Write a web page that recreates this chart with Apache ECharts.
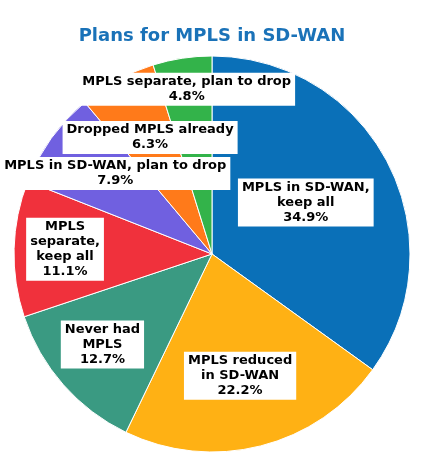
<!DOCTYPE html>
<html>
<head>
<meta charset="utf-8">
<script src="https://cdn.jsdelivr.net/npm/echarts@6/dist/echarts.min.js"></script>
<style>
html,body{margin:0;padding:0;background:#fff;}
#chart{width:424px;height:458px;}
</style>
</head>
<body>
<div id="chart"></div>
<script>
// ---- data ----
var categories = [
  "MPLS in SD-WAN, keep all",
  "MPLS reduced in SD-WAN",
  "Never had MPLS",
  "MPLS separate, keep all",
  "MPLS in SD-WAN, plan to drop",
  "Dropped MPLS already",
  "MPLS separate, plan to drop"
];
var values = [34.9, 22.2, 12.7, 11.1, 7.9, 6.3, 4.8];
var labelText = [
  "MPLS in SD-WAN,\nkeep all",
  "MPLS reduced\nin SD-WAN",
  "Never had\nMPLS",
  "MPLS\nseparate,\nkeep all",
  "MPLS in SD-WAN, plan to drop",
  "Dropped MPLS already",
  "MPLS separate, plan to drop"
];
var titleText = "Plans for MPLS in SD-WAN";

// ---- styles ----
var colors = ["#0a70b8", "#ffb114", "#3a9a82", "#f0313c", "#7060e0", "#ff7a1a", "#33b34a"];
var labelOffsets = [[3, -5], [3, 23], [-33, 23], [-45, -2], [-14, -21], [-13, -27], [-10, -64]];

var chart = echarts.init(document.getElementById('chart'), null, {renderer: 'canvas'});
var data = categories.map(function (c, i) {
  return {
    name: c,
    value: values[i],
    itemStyle: {color: colors[i]},
    label: {offset: labelOffsets[i]}
  };
});
chart.setOption({
  animation: false,
  title: {
    text: titleText,
    left: 'center',
    top: 22,
    textStyle: {color: '#1a72b8', fontSize: 18, fontWeight: 'bold', fontFamily: 'DejaVu Sans'}
  },
  series: [{
    type: 'pie',
    center: [212, 254],
    radius: 198,
    startAngle: 90,
    clockwise: true,
    data: data,
    itemStyle: {borderColor: '#fff', borderWidth: 1},
    label: {
      show: true,
      position: 'inside',
      color: '#000',
      fontSize: 13,
      fontWeight: 'bold',
      fontFamily: 'DejaVu Sans',
      lineHeight: 15,
      align: 'center',
      backgroundColor: '#fff',
      padding: [2, 4, 1, 4],
      formatter: function (p) {
        return labelText[p.dataIndex] + '\n' + p.value.toFixed(1) + '%';
      }
    },
    labelLine: {show: false},
    emphasis: {disabled: true}
  }]
});
</script>
</body>
</html>
